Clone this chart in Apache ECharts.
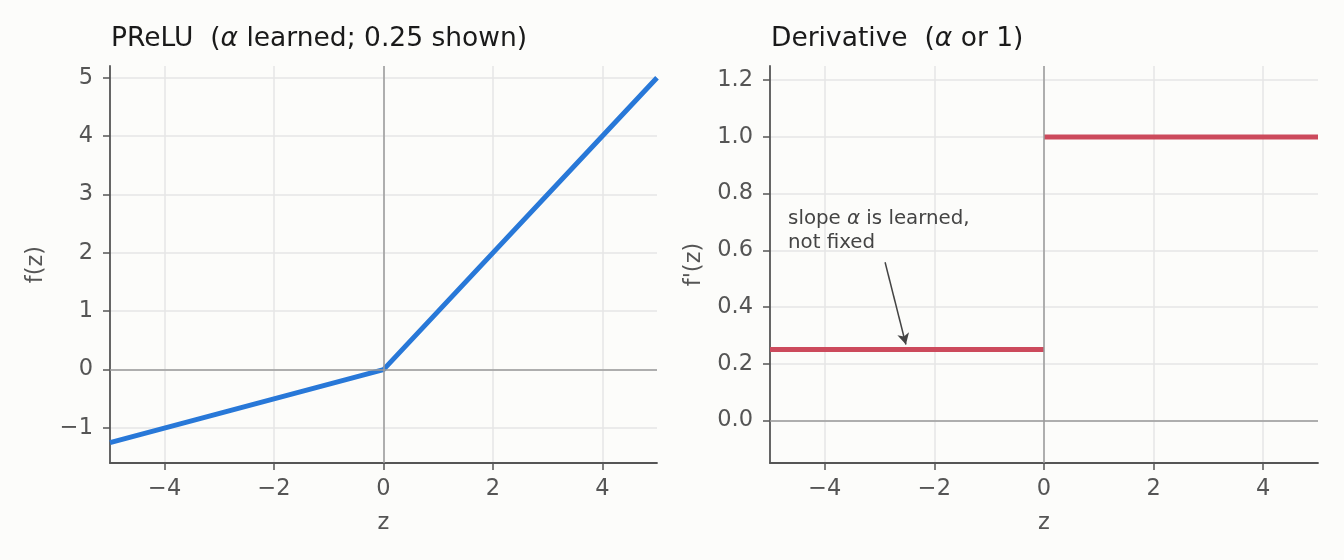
<!DOCTYPE html>
<html>
<head>
<meta charset="utf-8">
<script src="https://cdn.jsdelivr.net/npm/echarts@6/dist/echarts.min.js"></script>
<style>
  html, body { margin: 0; padding: 0; background: #fcfcfa; }
  #chart { width: 1344px; height: 560px; }
</style>
</head>
<body>
<div id="chart"></div>
<script>
// data
const zPoints = [-5, 0, 5]
const preluValues = [-1.25, 0, 5]
const derivLeftZ = [-5, 0]
const derivLeftValues = [0.25, 0.25]
const derivRightZ = [0, 5]
const derivRightValues = [1, 1]
const zTicks = [-4, -2, 0, 2, 4]
const fTicks = [-1, 0, 1, 2, 3, 4, 5]
const dTicks = [0, 0.2, 0.4, 0.6, 0.8, 1.0, 1.2]
const noteText = 'slope {a|α} is learned,\nnot fixed'
const notePos = [-4.67, 0.667]
const arrowFrom = [-2.9, 0.558]
const arrowTo = [-2.52, 0.268]

const font = 'DejaVu Sans'
const axisGray = '#555555'
const gridGray = '#e6e6e6'
const zeroGray = '#9a9a9a'

const minus = v => (v < 0 ? '\u2212' + Math.abs(v) : String(v))

function xAxisFor(gridIndex) {
    return {
        gridIndex,
        type: 'value',
        min: -5,
        max: 5,
        name: 'z',
        nameLocation: 'middle',
        nameGap: 49,
        nameTextStyle: { fontFamily: font, fontSize: 22.5, color: axisGray },
        axisLine: { onZero: false, lineStyle: { color: axisGray, width: 1.8 } },
        axisTick: { customValues: zTicks, length: 7, lineStyle: { color: axisGray, width: 1.5 } },
        axisLabel: {
            customValues: zTicks,
            formatter: minus,
            fontFamily: font,
            fontSize: 22.5,
            color: axisGray,
            margin: 15,
        },
        splitLine: { show: true, lineStyle: { color: gridGray, width: 1.5 } },
    }
}

const chart = echarts.init(document.getElementById('chart'), null, { renderer: 'canvas' })

const titleStyle = {
    fontFamily: font, fontSize: 26.5, fontWeight: 'normal', color: '#1a1a1a',
    rich: { a: { fontFamily: font, fontSize: 26.5, fontStyle: 'italic', color: '#1a1a1a' } },
}

const option = {
    backgroundColor: '#fcfcfa',
    animation: false,
    title: [
        { text: 'PReLU  ({a|α} learned; 0.25 shown)', left: 106, top: 21, textStyle: titleStyle },
        { text: 'Derivative  ({a|α} or 1)', left: 766, top: 21, textStyle: titleStyle },
    ],
    grid: [
        { left: 110, top: 66, width: 547, height: 397 },
        { left: 770, top: 66, width: 548, height: 397 },
    ],
    xAxis: [xAxisFor(0), xAxisFor(1)],
    yAxis: [
        {
            gridIndex: 0,
            type: 'value',
            min: -1.6,
            max: 5.2,
            name: 'f(z)',
            nameLocation: 'middle',
            nameGap: 62,
            nameTextStyle: { fontFamily: font, fontSize: 22.5, color: axisGray },
            axisLine: { show: true, onZero: false, lineStyle: { color: axisGray, width: 1.8 } },
            axisTick: { show: true, customValues: fTicks, length: 7, lineStyle: { color: axisGray, width: 1.5 } },
            axisLabel: {
                customValues: fTicks,
                formatter: minus,
                fontFamily: font,
                fontSize: 22.5,
                color: axisGray,
                margin: 17,
            },
            splitLine: { show: true, lineStyle: { color: gridGray, width: 1.5 } },
        },
        {
            gridIndex: 1,
            type: 'value',
            min: -0.15,
            max: 1.25,
            name: "f'(z)",
            nameLocation: 'middle',
            nameGap: 64,
            nameTextStyle: { fontFamily: font, fontSize: 22.5, color: axisGray },
            axisLine: { show: true, onZero: false, lineStyle: { color: axisGray, width: 1.8 } },
            axisTick: { show: true, customValues: dTicks, length: 7, lineStyle: { color: axisGray, width: 1.5 } },
            axisLabel: {
                customValues: dTicks,
                formatter: v => v.toFixed(1),
                fontFamily: font,
                fontSize: 22.5,
                color: axisGray,
                margin: 17,
            },
            splitLine: { show: true, lineStyle: { color: gridGray, width: 1.5 } },
        },
    ],
    series: [
        // zero reference lines, drawn under the curves
        {
            type: 'line', xAxisIndex: 0, yAxisIndex: 0, z: 1, data: [],
            markLine: {
                silent: true, symbol: ['none', 'none'], label: { show: false },
                lineStyle: { color: zeroGray, width: 1.5, type: 'solid' },
                data: [{ xAxis: 0 }, { yAxis: 0 }],
            },
        },
        {
            type: 'line', xAxisIndex: 1, yAxisIndex: 1, z: 1, data: [],
            markLine: {
                silent: true, symbol: ['none', 'none'], label: { show: false },
                lineStyle: { color: zeroGray, width: 1.5, type: 'solid' },
                data: [{ xAxis: 0 }, { yAxis: 0 }],
            },
        },
        {
            name: 'PReLU',
            type: 'line', xAxisIndex: 0, yAxisIndex: 0, z: 3,
            showSymbol: false,
            data: zPoints.map((z, i) => [z, preluValues[i]]),
            lineStyle: { color: '#2878d8', width: 5, cap: 'butt' },
            itemStyle: { color: '#2878d8' },
        },
        {
            name: 'deriv-left',
            type: 'line', xAxisIndex: 1, yAxisIndex: 1, z: 3,
            showSymbol: false,
            data: derivLeftZ.map((z, i) => [z, derivLeftValues[i]]),
            lineStyle: { color: '#cc4a5c', width: 5, cap: 'butt' },
            itemStyle: { color: '#cc4a5c' },
            markPoint: {
                silent: true,
                symbol: 'circle',
                symbolSize: 0,
                data: [{ coord: notePos }],
                label: {
                    show: true,
                    position: 'right',
                    distance: 0,
                    formatter: noteText,
                    fontFamily: font,
                    fontSize: 19.8,
                    lineHeight: 24,
                    color: '#444444',
                    rich: { a: { fontFamily: font, fontSize: 19.8, fontStyle: 'italic', color: '#444444', lineHeight: 24 } },
                },
            },
            markLine: {
                silent: true,
                symbol: ['none', 'arrow'],
                symbolSize: [9, 11],
                label: { show: false },
                lineStyle: { color: '#444444', width: 1.5, type: 'solid' },
                data: [[{ coord: arrowFrom }, { coord: arrowTo }]],
            },
        },
        {
            name: 'deriv-right',
            type: 'line', xAxisIndex: 1, yAxisIndex: 1, z: 3,
            showSymbol: false,
            data: derivRightZ.map((z, i) => [z, derivRightValues[i]]),
            lineStyle: { color: '#cc4a5c', width: 5, cap: 'butt' },
            itemStyle: { color: '#cc4a5c' },
        },
    ],
}
chart.setOption(option)
</script>
</body>
</html>
